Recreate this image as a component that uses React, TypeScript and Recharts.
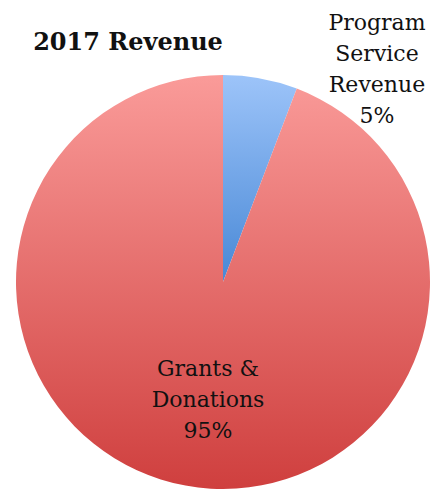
import React from "react";
import { PieChart, Pie, Cell } from "recharts";

const categories = ["Program Service Revenue", "Grants & Donations"];
const values = [5.8, 94.2];
const percentLabels = ["5%", "95%"];
const labelLines = [["Program", "Service", "Revenue"], ["Grants &", "Donations"]];

const data = categories.map((name, i) => ({ name, value: values[i] }));

const gradients = [
  { id: "gBlue", top: "#9dc4f9", bottom: "#4888d6" },
  { id: "gRed", top: "#fa9b99", bottom: "#cf3f3e" },
];

const LABEL_OFFSETS = [
  { dx: 154, dy: -252 },
  { dx: -15, dy: 94 },
];

const FONT = "'DejaVu Serif', serif";

const renderLabel = (props: any) => {
  const { cx, cy, index } = props;
  const off = LABEL_OFFSETS[index];
  const x = cx + off.dx;
  const y = cy + off.dy;
  const lines = [...labelLines[index], percentLabels[index]];
  return (
    <text
      x={x}
      y={y}
      textAnchor="middle"
      fontFamily={FONT}
      fontSize={22}
      fill="#111"
    >
      {lines.map((l, i) => (
        <tspan key={i} x={x} dy={i === 0 ? 0 : 31}>
          {l}
        </tspan>
      ))}
    </text>
  );
};

export default function App() {
  return (
    <div style={{ position: "absolute", left: 0, top: 0, width: 430, height: 490, background: "#fff" }}>
      <PieChart width={430} height={490} margin={{ top: 0, right: 0, bottom: 0, left: 0 }}>
        <defs>
          {gradients.map((g) => (
            <linearGradient key={g.id} id={g.id} x1="0" y1="0" x2="0" y2="1">
              <stop offset="0%" stopColor={g.top} />
              <stop offset="100%" stopColor={g.bottom} />
            </linearGradient>
          ))}
        </defs>
        <text x={128} y={50} textAnchor="middle" fontFamily={FONT} fontWeight="bold" fontSize={24} fill="#111">
          2017 Revenue
        </text>
        <Pie
          data={data}
          dataKey="value"
          nameKey="name"
          cx={223}
          cy={282}
          outerRadius={207}
          startAngle={90}
          endAngle={-270}
          stroke="none"
          labelLine={false}
          label={renderLabel}
          isAnimationActive={false}
        >
          {data.map((d, i) => (
            <Cell key={d.name} fill={`url(#${gradients[i].id})`} />
          ))}
        </Pie>
      </PieChart>
    </div>
  );
}
